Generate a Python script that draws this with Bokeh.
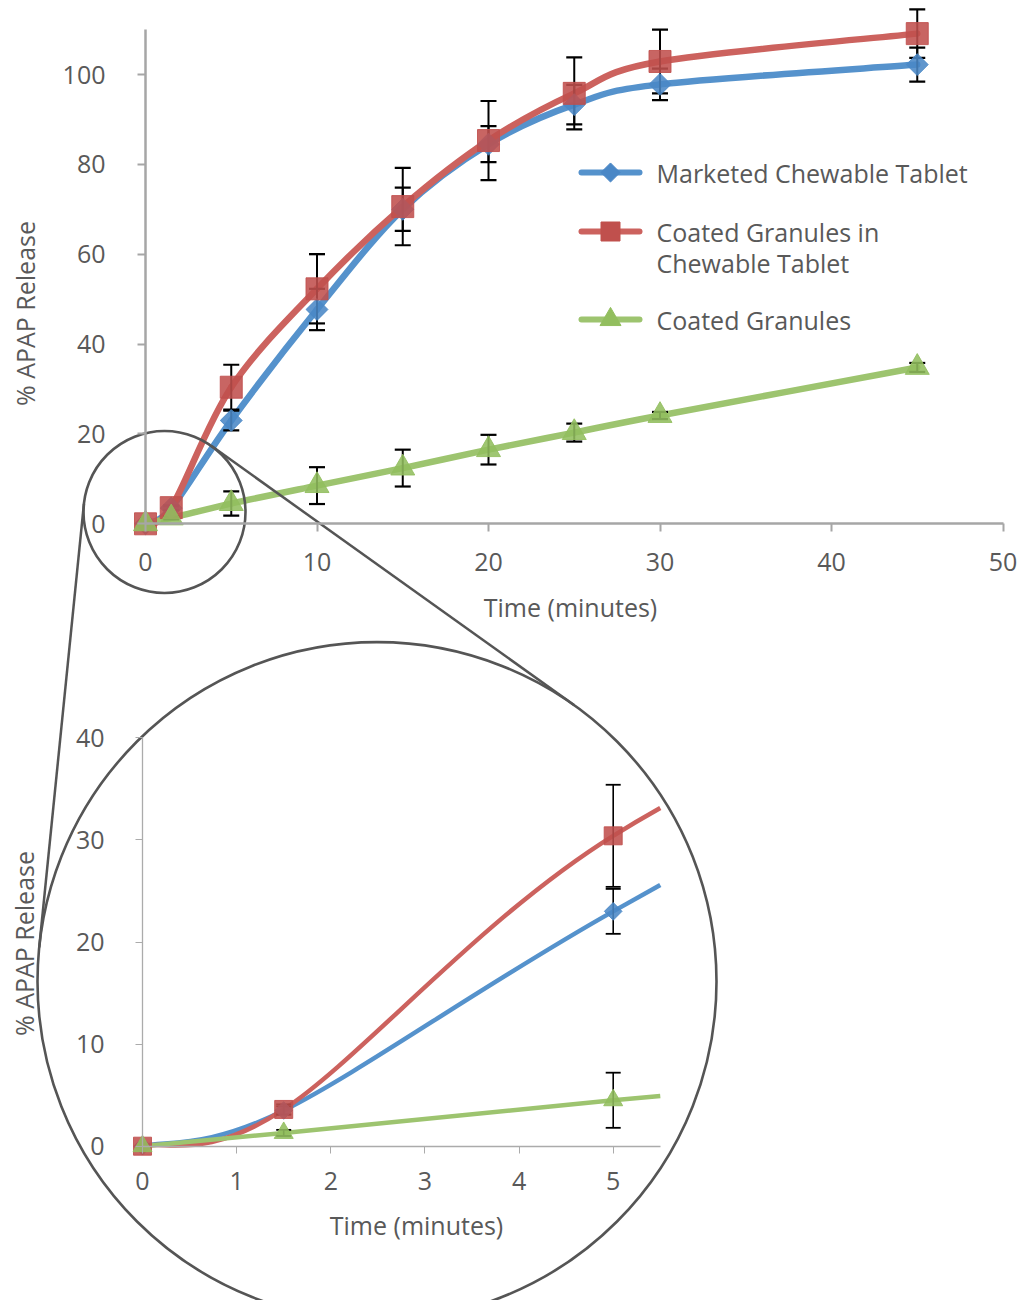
import math
from bokeh.plotting import figure
from bokeh.models import Range1d, LinearAxis, FixedTicker, ColumnDataSource
from bokeh.core.properties import value
from bokeh.embed import file_html
from bokeh.resources import INLINE

# ---------------- data ----------------
time_min = [0, 1.5, 5, 10, 15, 20, 25, 30, 45]
marketed_tablet = [0, 3.5, 23.0, 47.7, 70.0, 84.5, 93.3, 97.8, 102.2]
marketed_tablet_sd = [0, 0.4, 2.2, 4.6, 4.8, 4.0, 4.4, 3.5, 3.8]
granules_in_tablet = [0, 3.6, 30.4, 52.3, 70.6, 85.3, 95.8, 102.9, 109.1]
granules_in_tablet_sd = [0, 0.5, 5.0, 7.7, 8.6, 8.8, 8.0, 7.1, 5.4]
coated_granules = [0, 1.3, 4.5, 8.5, 12.4, 16.5, 20.3, 24.1, 34.8]
coated_granules_sd = [0, 0.3, 2.7, 4.1, 4.1, 3.3, 2.0, 0.8, 1.0]

series_names = ["Marketed Chewable Tablet", "Coated Granules in\nChewable Tablet", "Coated Granules"]

main_x_ticks = [0, 10, 20, 30, 40, 50]
main_y_ticks = [0, 20, 40, 60, 80, 100]
inset_x_ticks = [0, 1, 2, 3, 4, 5]
inset_y_ticks = [0, 10, 20, 30, 40]
MAIN_X_MAX, MAIN_Y_MAX = 50, 110
INSET_X_MAX, INSET_Y_MAX = 5.5, 40
x_title = "Time (minutes)"
y_title = "% APAP Release"

# ---------------- layout (picture pixels) ----------------
W, H = 1017, 1300
M_X0, M_X50 = 145.0, 1002.5
M_Y0, M_Y100 = 523.3, 74.0
I_X0, I_X5 = 142.0, 612.7
I_Y0, I_Y40 = 1145.7, 737.3


def mx(px):
    return (px - M_X0) * 50.0 / (M_X50 - M_X0)


def my(py):
    return (M_Y0 - py) * 100.0 / (M_Y0 - M_Y100)


def ix(px):
    return (px - I_X0) * 5.0 / (I_X5 - I_X0)


def iy(py):
    return (I_Y0 - py) * 40.0 / (I_Y0 - I_Y40)


TXT = "#595959"
FONT = "Open Sans"
FS = "25px"
BLUE_L, BLUE_M = "#5592CC", "#4A87C6"
RED_L, RED_M = "#CC625E", "#C0504D"
GREEN_L, GREEN_M = "#9DC46F", "#92BE5E"
ZOOM_C = "#555555"

p = figure(width=W, height=H, output_backend="svg", toolbar_location=None,
           x_range=Range1d(mx(0), mx(W)),
           y_range=Range1d(my(H), my(0)),
           x_axis_location=None, y_axis_location=None, min_border=0,
           outline_line_color=None, background_fill_color="white",
           border_fill_color="white")
p.extra_x_ranges = {"ix": Range1d(ix(0), ix(W))}
p.extra_y_ranges = {"iy": Range1d(iy(H), iy(0))}
for g in p.grid:
    g.visible = False


def styled_axis(ticks, bounds, color, lw, tick_len, standoff, **names):
    ax = LinearAxis(fixed_location=0, bounds=bounds, ticker=FixedTicker(ticks=ticks), **names)
    ax.axis_line_color = color
    ax.axis_line_width = lw
    ax.major_tick_line_color = color
    ax.major_tick_line_width = max(1, lw - 0.5)
    ax.major_tick_in = 0
    ax.major_tick_out = tick_len
    ax.minor_tick_line_color = None
    ax.major_label_text_font = FONT
    ax.major_label_text_font_size = FS
    ax.major_label_text_color = TXT
    ax.major_label_standoff = standoff
    return ax


p.add_layout(styled_axis(main_x_ticks, (0, MAIN_X_MAX), "#A6A6A6", 2.5, 8, 21), "below")
p.add_layout(styled_axis(main_y_ticks, (0, MAIN_Y_MAX), "#A6A6A6", 2.5, 8, 32), "left")
p.add_layout(styled_axis(inset_x_ticks, (0, INSET_X_MAX), "#ABABAB", 1.3, 7, 19,
                         x_range_name="ix", y_range_name="iy"), "below")
p.add_layout(styled_axis(inset_y_ticks, (0, INSET_Y_MAX), "#ABABAB", 1.3, 7, 31,
                         x_range_name="ix", y_range_name="iy"), "left")


# ---------------- smooth (Excel-style) curve segments ----------------
def smooth_segments(xs, ys):
    n = len(xs)
    seg = {k: [] for k in ("x0", "y0", "x1", "y1", "cx0", "cy0", "cx1", "cy1")}
    for i in range(n - 1):
        a, b, c, d = max(i - 1, 0), i, i + 1, min(i + 2, n - 1)
        seg["x0"].append(xs[b]); seg["y0"].append(ys[b])
        seg["x1"].append(xs[c]); seg["y1"].append(ys[c])
        seg["cx0"].append(xs[b] + (xs[c] - xs[a]) / 6.0)
        seg["cy0"].append(ys[b] + (ys[c] - ys[a]) / 6.0)
        seg["cx1"].append(xs[c] - (xs[d] - xs[b]) / 6.0)
        seg["cy1"].append(ys[c] - (ys[d] - ys[b]) / 6.0)
    return seg


def lerp(a, b, t):
    return (a[0] + (b[0] - a[0]) * t, a[1] + (b[1] - a[1]) * t)


def clip_segments(seg, xmax):
    out = {k: [] for k in seg}
    for i in range(len(seg["x0"])):
        if seg["x0"][i] >= xmax:
            break
        P0 = (seg["x0"][i], seg["y0"][i]); P1 = (seg["cx0"][i], seg["cy0"][i])
        P2 = (seg["cx1"][i], seg["cy1"][i]); P3 = (seg["x1"][i], seg["y1"][i])
        if P3[0] > xmax:
            lo, hi = 0.0, 1.0
            for _ in range(60):
                t = (lo + hi) / 2
                q01, q12, q23 = lerp(P0, P1, t), lerp(P1, P2, t), lerp(P2, P3, t)
                q = lerp(lerp(q01, q12, t), lerp(q12, q23, t), t)
                if q[0] < xmax:
                    lo = t
                else:
                    hi = t
            t = lo
            q01, q12, q23 = lerp(P0, P1, t), lerp(P1, P2, t), lerp(P2, P3, t)
            q012, q123 = lerp(q01, q12, t), lerp(q12, q23, t)
            P1, P2, P3 = q01, q012, lerp(q012, q123, t)
        for k, v in zip(("x0", "y0", "cx0", "cy0", "cx1", "cy1", "x1", "y1"),
                        (P0[0], P0[1], P1[0], P1[1], P2[0], P2[1], P3[0], P3[1])):
            out[k].append(v)
    return out


series = [
    dict(y=marketed_tablet, sd=marketed_tablet_sd, lc=BLUE_L, mc=BLUE_M, marker="square",
         angle=math.pi / 4, size=15.5, isize=12.5, lsize=13.5),
    dict(y=granules_in_tablet, sd=granules_in_tablet_sd, lc=RED_L, mc=RED_M, marker="square",
         angle=0.0, size=22, isize=18, lsize=19),
    dict(y=coated_granules, sd=coated_granules_sd, lc=GREEN_L, mc=GREEN_M, marker="triangle",
         angle=0.0, size=24, isize=19, lsize=21),
]

# ---------------- main chart ----------------
for s in series:
    p.bezier(x0="x0", y0="y0", x1="x1", y1="y1", cx0="cx0", cy0="cy0", cx1="cx1", cy1="cy1",
             source=ColumnDataSource(smooth_segments(time_min, s["y"])),
             line_color=s["lc"], line_width=6.5, line_cap="round")
for s in series:
    xe = [t for t, e in zip(time_min, s["sd"]) if e > 0]
    lo = [v - e for v, e in zip(s["y"], s["sd"]) if e > 0]
    hi = [v + e for v, e in zip(s["y"], s["sd"]) if e > 0]
    p.segment(x0=xe, y0=lo, x1=xe, y1=hi, line_color="black", line_width=2)
    p.scatter(x=xe + xe, y=lo + hi, marker="dash", size=16, line_color="black", line_width=2.2)
for s in series:
    p.scatter(x=time_min, y=s["y"], marker=s["marker"], angle=s["angle"], size=s["size"],
              fill_color=s["mc"], line_color=s["mc"], fill_alpha=0.88, line_alpha=0.88)

# ---------------- inset chart ----------------
IN = dict(x_range_name="ix", y_range_name="iy")
for s in series:
    p.bezier(x0="x0", y0="y0", x1="x1", y1="y1", cx0="cx0", cy0="cy0", cx1="cx1", cy1="cy1",
             source=ColumnDataSource(clip_segments(smooth_segments(time_min, s["y"]), INSET_X_MAX)),
             line_color=s["lc"], line_width=4.5, **IN)
for s in series:
    keep = [i for i, t in enumerate(time_min) if t <= INSET_X_MAX and s["sd"][i] > 0]
    xe = [time_min[i] for i in keep]
    lo = [s["y"][i] - s["sd"][i] for i in keep]
    hi = [s["y"][i] + s["sd"][i] for i in keep]
    p.segment(x0=xe, y0=lo, x1=xe, y1=hi, line_color="black", line_width=1.6, **IN)
    p.scatter(x=xe + xe, y=lo + hi, marker="dash", size=15, line_color="black", line_width=1.8, **IN)
for s in series:
    keep = [i for i, t in enumerate(time_min) if t <= INSET_X_MAX]
    p.scatter(x=[time_min[i] for i in keep], y=[s["y"][i] for i in keep], marker=s["marker"],
              angle=s["angle"], size=s["isize"], fill_color=s["mc"], line_color=s["mc"],
              fill_alpha=0.88, line_alpha=0.88, **IN)

# ---------------- titles ----------------
txt = dict(text_font=value(FONT), text_font_size=FS, text_color=TXT)
p.text(x=[mx(570)], y=[my(606)], text=[x_title], text_align="center", text_baseline="middle", **txt)
p.text(x=[mx(24)], y=[my(313)], text=[y_title], angle=math.pi / 2, text_align="center",
       text_baseline="middle", **txt)
p.text(x=[mx(416)], y=[my(1224)], text=[x_title], text_align="center", text_baseline="middle", **txt)
p.text(x=[mx(23)], y=[my(943)], text=[y_title], angle=math.pi / 2, text_align="center",
       text_baseline="middle", **txt)

# ---------------- legend ----------------
legend_rows = [172, 231, 319]
for s, name, ry in zip(series, series_names, legend_rows):
    p.segment(x0=[mx(581)], y0=[my(ry)], x1=[mx(639)], y1=[my(ry)], line_color=s["lc"],
              line_width=6, line_cap="round")
    p.scatter(x=[mx(610)], y=[my(ry)], marker=s["marker"], angle=s["angle"], size=s["lsize"],
              fill_color=s["mc"], line_color=s["mc"])
    for k, line in enumerate(name.split("\n")):
        p.text(x=[mx(656)], y=[my(ry + 31 * k)], text=[line], text_align="left",
               text_baseline="middle", **txt)

# ---------------- zoom circles and connectors ----------------
SMALL_C, SMALL_R = (164.0, 511.5), 81.0
BIG_C, BIG_R = (376.5, 981.0), 339.5


def ext_tangents(c1, r1, c2, r2):
    dx, dy = c2[0] - c1[0], c2[1] - c1[1]
    d = math.hypot(dx, dy)
    base = math.atan2(dy, dx)
    ang = math.acos((r1 - r2) / d)
    res = []
    for sgn in (1, -1):
        a = base + sgn * ang
        nx, ny = math.cos(a), math.sin(a)
        res.append(((c1[0] + r1 * nx, c1[1] + r1 * ny), (c2[0] + r2 * nx, c2[1] + r2 * ny)))
    return res


tans = ext_tangents(SMALL_C, SMALL_R, BIG_C, BIG_R)
p.segment(x0=[mx(a[0]) for a, b in tans], y0=[my(a[1]) for a, b in tans],
          x1=[mx(b[0]) for a, b in tans], y1=[my(b[1]) for a, b in tans],
          line_color=ZOOM_C, line_width=2.5)
p.scatter(x=[mx(SMALL_C[0]), mx(BIG_C[0])], y=[my(SMALL_C[1]), my(BIG_C[1])], marker="circle",
          size=[2 * SMALL_R, 2 * BIG_R], fill_color=None, line_color=ZOOM_C, line_width=2.6)

open("out.html", "w").write(file_html(p, INLINE))
